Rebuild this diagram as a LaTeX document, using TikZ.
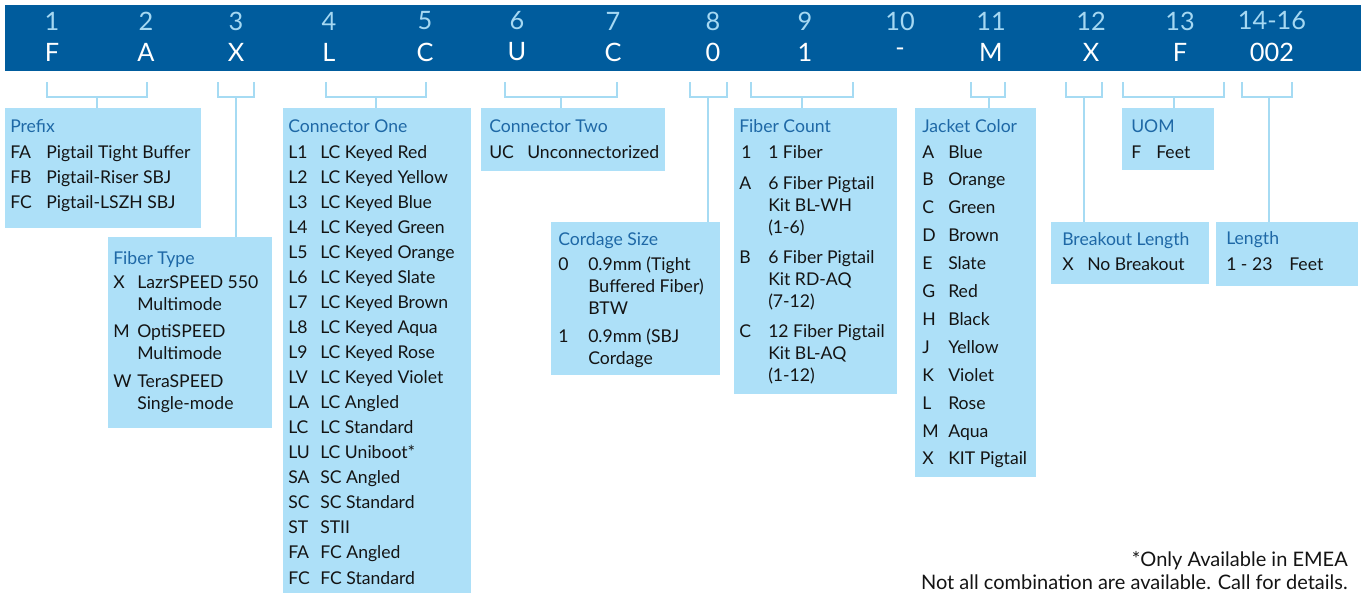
\documentclass[tikz,border=0pt]{standalone}
\usepackage{fontspec}
\setmainfont{Lato}
\usetikzlibrary{fit}
\definecolor{barblue}{RGB}{0,92,157}
\definecolor{boxblue}{RGB}{173,224,248}
\definecolor{lineblue}{RGB}{166,219,243}
\definecolor{titleblue}{RGB}{30,104,166}
\definecolor{numblue}{RGB}{165,216,242}
\definecolor{txtblack}{RGB}{20,20,20}
\begin{document}
\begin{tikzpicture}[x=0.75pt,y=-0.75pt,
  box/.style={fill=boxblue,draw=none,inner sep=0pt},
  txt/.style={anchor=base west,inner sep=0pt,font=\fontsize{13.2}{15}\selectfont,text=txtblack},
  ttl/.style={txt,text=titleblue},
  hnum/.style={anchor=center,inner sep=0pt,font=\fontsize{19}{20}\selectfont,text=numblue},
  hlet/.style={anchor=center,inner sep=0pt,font=\fontsize{19}{20}\selectfont,text=white},
  brk/.style={draw=lineblue,line width=1.1pt},
  foot/.style={anchor=base east,inner sep=0pt,font=\fontsize{15}{17}\selectfont,text=txtblack}]
\useasboundingbox (0,0) rectangle (1361,593);
% header bar
\node[fill=barblue,inner sep=0pt,fit={(5,5)(1361,71)}] (bar) {};
\foreach \n/\x/\d/\l in {h1/52/1/F,h2/146/2/A,h3/236/3/X,h4/329/4/L,h5/425/5/C,h6/517/6/U,h7/613/7/C,h8/713/8/0,h9/805/9/1,h10/900/10/-,h11/991/11/M,h12/1091/12/X,h13/1180/13/F,h14/1272/14-16/002}{
  \node[hnum] (\n n) at (\x,21) {\d};
  \node[hlet] (\n l) at (\x,52) {\l};
}
% boxes
\node[box,fit={(5,108)(201,228)}] (prefix) {};
\node[box,fit={(108,237)(272,428)}] (ftype) {};
\node[box,fit={(283,108)(471,593)}] (conone) {};
\node[box,fit={(481,108)(665,171)}] (contwo) {};
\node[box,fit={(551,222)(720,375)}] (cord) {};
\node[box,fit={(734,108)(897,394)}] (fcount) {};
\node[box,fit={(915,108)(1036,477)}] (jacket) {};
\node[box,fit={(1051,222)(1209,284)}] (brkout) {};
\node[box,fit={(1122,108)(1214,170)}] (uom) {};
\node[box,fit={(1216,222)(1358,286)}] (length) {};
% brackets
\foreach \b/\l/\m/\r/\t in {b1/47/97/147/prefix,b2/218/236/254/ftype,b3/326/376/426/conone,b4/505/561/617/contwo,b5/690/708/727/cord,b6/751/802/853/fcount,b7/971/989/1005/jacket,b8/1066/1084/1102/brkout,b9/1123/1174/1224/uom,b10/1242/1269/1292/length}{
  \coordinate (\b l) at (\l,82);
  \coordinate (\b r) at (\r,82);
  \coordinate (\b m) at (\m,97);
  \draw[brk] (\b l) |- (\b m) -| (\b r);
  \draw[brk] (\b m) -- (\b m |- \t.north);
}
% Prefix
\node[ttl] (tprefix) at (10,132) {Prefix};
\foreach \c/\d [count=\i from 0] in {FA/Pigtail Tight Buffer,FB/Pigtail-Riser SBJ,FC/Pigtail-LSZH SBJ}{
  \node[txt] (pc\i) at (10,158+25.1*\i) {\c};
  \node[txt] (pd\i) at (46,158+25.1*\i) {\d};
}
% Fiber type
\node[ttl] (tftype) at (113,264) {Fiber Type};
\node[txt] (fc1) at (113,288) {X};
\node[txt] (fd1) at (137,288) {LazrSPEED 550};
\node[txt] (fd1b) at (137,310) {Multimode};
\node[txt] (fc2) at (113,337) {M};
\node[txt] (fd2) at (137,337) {OptiSPEED};
\node[txt] (fd2b) at (137,359) {Multimode};
\node[txt] (fc3) at (113,387) {W};
\node[txt] (fd3) at (137,387) {TeraSPEED};
\node[txt] (fd3b) at (137,409) {Single-mode};
% Connector One
\node[ttl] (tconone) at (288,132) {Connector One};
\foreach \c/\d [count=\i from 0] in {L1/LC Keyed Red,L2/LC Keyed Yellow,L3/LC Keyed Blue,L4/LC Keyed Green,L5/LC Keyed Orange,L6/LC Keyed Slate,L7/LC Keyed Brown,L8/LC Keyed Aqua,L9/LC Keyed Rose,LV/LC Keyed Violet,LA/LC Angled,LC/LC Standard,LU/LC Uniboot*,SA/SC Angled,SC/SC Standard,ST/STII,FA/FC Angled,FC/FC Standard}{
  \node[txt] (oc\i) at (288,158+25.06*\i) {\c};
  \node[txt] (od\i) at (320,158+25.06*\i) {\d};
}
% Connector Two
\node[ttl] (tcontwo) at (489,132) {Connector Two};
\node[txt] (tc1) at (489,158) {UC};
\node[txt] (td1) at (527,158) {Unconnectorized};
% Cordage
\node[ttl] (tcord) at (558,245) {Cordage Size};
\node[txt] (cc1) at (558,270) {0};
\node[txt] (cd1) at (588,270) {0.9mm (Tight};
\node[txt] (cd1b) at (588,292) {Buffered Fiber)};
\node[txt] (cd1c) at (588,314) {BTW};
\node[txt] (cc2) at (558,342) {1};
\node[txt] (cd2) at (588,342) {0.9mm (SBJ};
\node[txt] (cd2b) at (588,364) {Cordage};
% Fiber count
\node[ttl] (tfcount) at (739,132) {Fiber Count};
\node[txt] (nc1) at (741,158) {1};
\node[txt] (nd1) at (768,158) {1 Fiber};
\foreach \c/\a/\b/\e/\y in {A/6 Fiber Pigtail/Kit BL-WH/(1-6)/189,B/6 Fiber Pigtail/Kit RD-AQ/(7-12)/263,C/12 Fiber Pigtail/Kit BL-AQ/(1-12)/337}{
  \node[txt] (nc\c) at (739,\y) {\c};
  \node[txt] (nd\c a) at (768,\y) {\a};
  \node[txt] (nd\c b) at (768,\y+22) {\b};
  \node[txt] (nd\c c) at (768,\y+44) {\e};
}
% Jacket
\node[ttl] (tjacket) at (922,132) {Jacket Color};
\foreach \c/\d [count=\i from 0] in {A/Blue,B/Orange,C/Green,D/Brown,E/Slate,G/Red,H/Black,J/Yellow,K/Violet,L/Rose,M/Aqua,X/KIT Pigtail}{
  \node[txt] (jc\i) at (922,158+27.9*\i) {\c};
  \node[txt] (jd\i) at (948,158+27.9*\i) {\d};
}
% Breakout
\node[ttl] (tbrk) at (1062,245) {Breakout Length};
\node[txt] (bc1) at (1062,270) {X};
\node[txt] (bd1) at (1087,270) {No Breakout};
% UOM
\node[ttl] (tuom) at (1131,132) {UOM};
\node[txt] (uc1) at (1131,158) {F};
\node[txt] (ud1) at (1156,158) {Feet};
% Length
\node[ttl] (tlen) at (1226,244) {Length};
\node[txt] (lc1) at (1226,270) {1 - 23};
\node[txt] (ld1) at (1289,270) {Feet};
% footnotes
\node[foot] (f1) at (1348,566) {*Only Available in EMEA};
\node[foot] (f2) at (1348,589) {Not all combination are available. Call for details.};
\end{tikzpicture}
\end{document}
